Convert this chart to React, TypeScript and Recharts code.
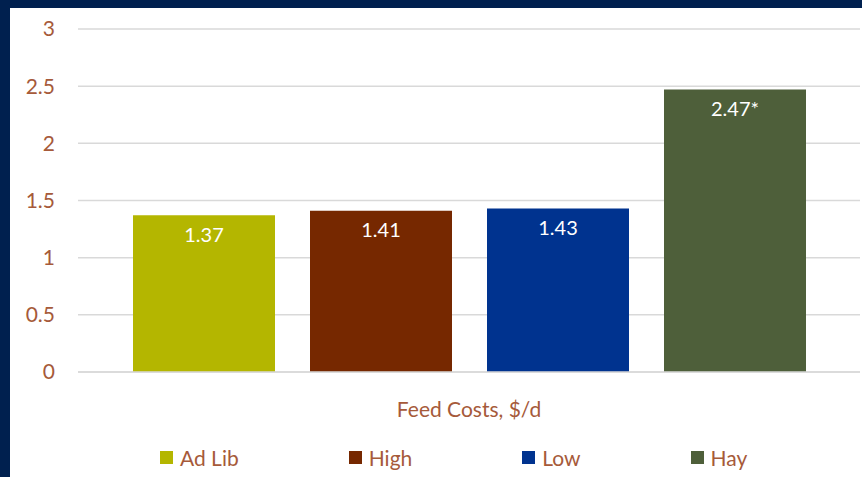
import React from 'react';
import { BarChart, Bar, XAxis, YAxis, CartesianGrid, Legend, LabelList } from 'recharts';

// Feed cost per day by ration
const category = 'Feed Costs, $/d';
const seriesNames = ['Ad Lib', 'High', 'Low', 'Hay'];
const seriesKeys = ['adLib', 'high', 'low', 'hay'];
const seriesValues = [1.37, 1.41, 1.43, 2.47];
const seriesNotes = ['', '', '', '*'];
const seriesColors = ['#b4b600', '#762800', '#00338f', '#4e5f3a'];
const yTicks = [0, 0.5, 1, 1.5, 2, 2.5, 3];

const data = [
  seriesKeys.reduce<Record<string, string | number>>(
    (row, key, i) => {
      row[key] = seriesValues[i];
      return row;
    },
    { name: category }
  ),
];

const FONT = 'Lato, "Open Sans", sans-serif';
const TEXT = '#a65a3a';
const GRID = '#d9d9d9';

function FeedLegend() {
  return (
    <div
      style={{
        height: 40,
        display: 'flex',
        alignItems: 'center',
        gap: 110,
        paddingLeft: 150,
        fontFamily: FONT,
        fontSize: 21,
        color: TEXT,
      }}
    >
      {seriesNames.map((name, i) => (
        <div key={name} style={{ display: 'flex', alignItems: 'center', gap: 7 }}>
          <span style={{ width: 13, height: 13, background: seriesColors[i], display: 'inline-block' }} />
          <span>{name}</span>
        </div>
      ))}
    </div>
  );
}

export default function App() {
  return (
    <div style={{ position: 'absolute', left: 0, top: 0, width: 862, height: 477, background: '#00204f' }}>
      <div style={{ position: 'absolute', left: 10, top: 8, width: 852, height: 469, background: '#ffffff' }}>
        <BarChart
          width={852}
          height={469}
          data={data}
          margin={{ top: 21, right: 2, left: 0, bottom: 0 }}
          barSize={142}
          barGap={35}
        >
          <CartesianGrid vertical={false} stroke={GRID} strokeWidth={1.5} />
          <XAxis
            dataKey="name"
            height={65}
            tickLine={false}
            tickSize={0}
            tickMargin={30}
            axisLine={{ stroke: GRID, strokeWidth: 1.5 }}
            tick={{ fill: TEXT, fontSize: 21, fontFamily: FONT }}
          />
          <YAxis
            width={68}
            domain={[0, 3]}
            ticks={yTicks}
            axisLine={false}
            tickLine={false}
            tickSize={0}
            tickMargin={23}
            tick={{ fill: TEXT, fontSize: 21, fontFamily: FONT }}
          />
          <Legend verticalAlign="bottom" height={40} content={() => <FeedLegend />} />
          {seriesKeys.map((key, i) => (
            <Bar key={key} dataKey={key} name={seriesNames[i]} fill={seriesColors[i]} isAnimationActive={false}>
              <LabelList
                dataKey={key}
                position="insideTop"
                offset={12}
                fill="#ffffff"
                fontSize={20}
                fontFamily={FONT}
                formatter={(v: number) => `${v}${seriesNotes[i]}`}
              />
            </Bar>
          ))}
        </BarChart>
      </div>
    </div>
  );
}
